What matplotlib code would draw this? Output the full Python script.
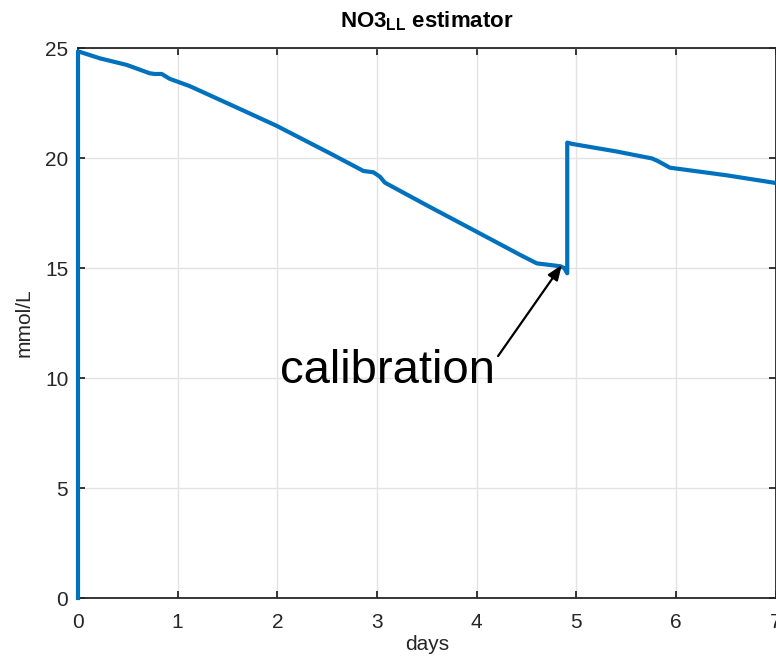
"""NO3_LL estimator trace with calibration jump."""

import matplotlib
matplotlib.use("Agg")
import matplotlib.pyplot as plt

plt.rcParams["font.family"] = ["Liberation Sans", "DejaVu Sans"]
plt.rcParams["mathtext.fontset"] = "custom"
plt.rcParams["mathtext.rm"] = "Liberation Sans"
plt.rcParams["mathtext.bf"] = "Liberation Sans:bold"

# estimator trace
days = [0.0, 0.0, 0.22, 0.49, 0.72, 0.77, 0.84, 0.92, 1.12, 1.6, 1.99, 2.53,
        2.865, 2.965, 3.03, 3.08, 3.5, 4.0, 4.44, 4.605, 4.75, 4.84, 4.88,
        4.91, 4.91, 4.96, 5.4, 5.76, 5.82, 5.94, 6.5, 6.98]
no3 = [0.0, 24.85, 24.53, 24.23, 23.85, 23.82, 23.82, 23.6, 23.27, 22.28,
       21.47, 20.21, 19.41, 19.35, 19.15, 18.88, 17.85, 16.65, 15.59, 15.21,
       15.13, 15.08, 15.0, 14.76, 20.7, 20.64, 20.3, 19.98, 19.86, 19.56,
       19.22, 18.88]

x_ticks = [0, 1, 2, 3, 4, 5, 6, 7]
y_ticks = [0, 5, 10, 15, 20, 25]

calib_tip = (4.856, 15.14)
calib_text = (2.03, 9.77)

fig = plt.figure(figsize=(7.76, 6.62), dpi=100)
ax = fig.add_axes([78 / 776, 1 - 598 / 662, 697.5 / 776, 550 / 662])

ax.plot(days, no3, color="#0072BD", linewidth=3.0, clip_on=False, zorder=3,
        solid_joinstyle="round")

ax.set_xlim(0, 7)
ax.set_ylim(0, 25)
ax.set_xticks(x_ticks)
ax.set_yticks(y_ticks)
ax.grid(True, color="#e3e3e3", linewidth=1.0)
ax.set_axisbelow(True)

for s in ax.spines.values():
    s.set_color("#262626")
    s.set_linewidth(1.3)
    s.set_zorder(2)
ax.tick_params(direction="in", length=5, width=1.3, color="#262626",
               top=True, right=True, labelsize=15, labelcolor="#262626")
ax.tick_params(axis="x", pad=11)
ax.tick_params(axis="y", pad=7)

ax.set_xlabel("days", fontsize=15, color="#262626", labelpad=2)
ax.set_ylabel("mmol/L", fontsize=15, color="#262626", labelpad=8)
ax.set_title(r"NO3$_{\mathbf{LL}}$ estimator", fontsize=16, fontweight="bold",
             pad=15)

ax.annotate("calibration", xy=calib_tip, xytext=calib_text,
            fontsize=34, ha="left", va="baseline", color="black",
            arrowprops=dict(arrowstyle="-|>,head_length=0.9,head_width=0.35",
                            mutation_scale=10, color="black", linewidth=1.6,
                            shrinkA=0, shrinkB=0,
                            relpos=(1.0, 0.75)))

fig.savefig("out.png", dpi=100)
